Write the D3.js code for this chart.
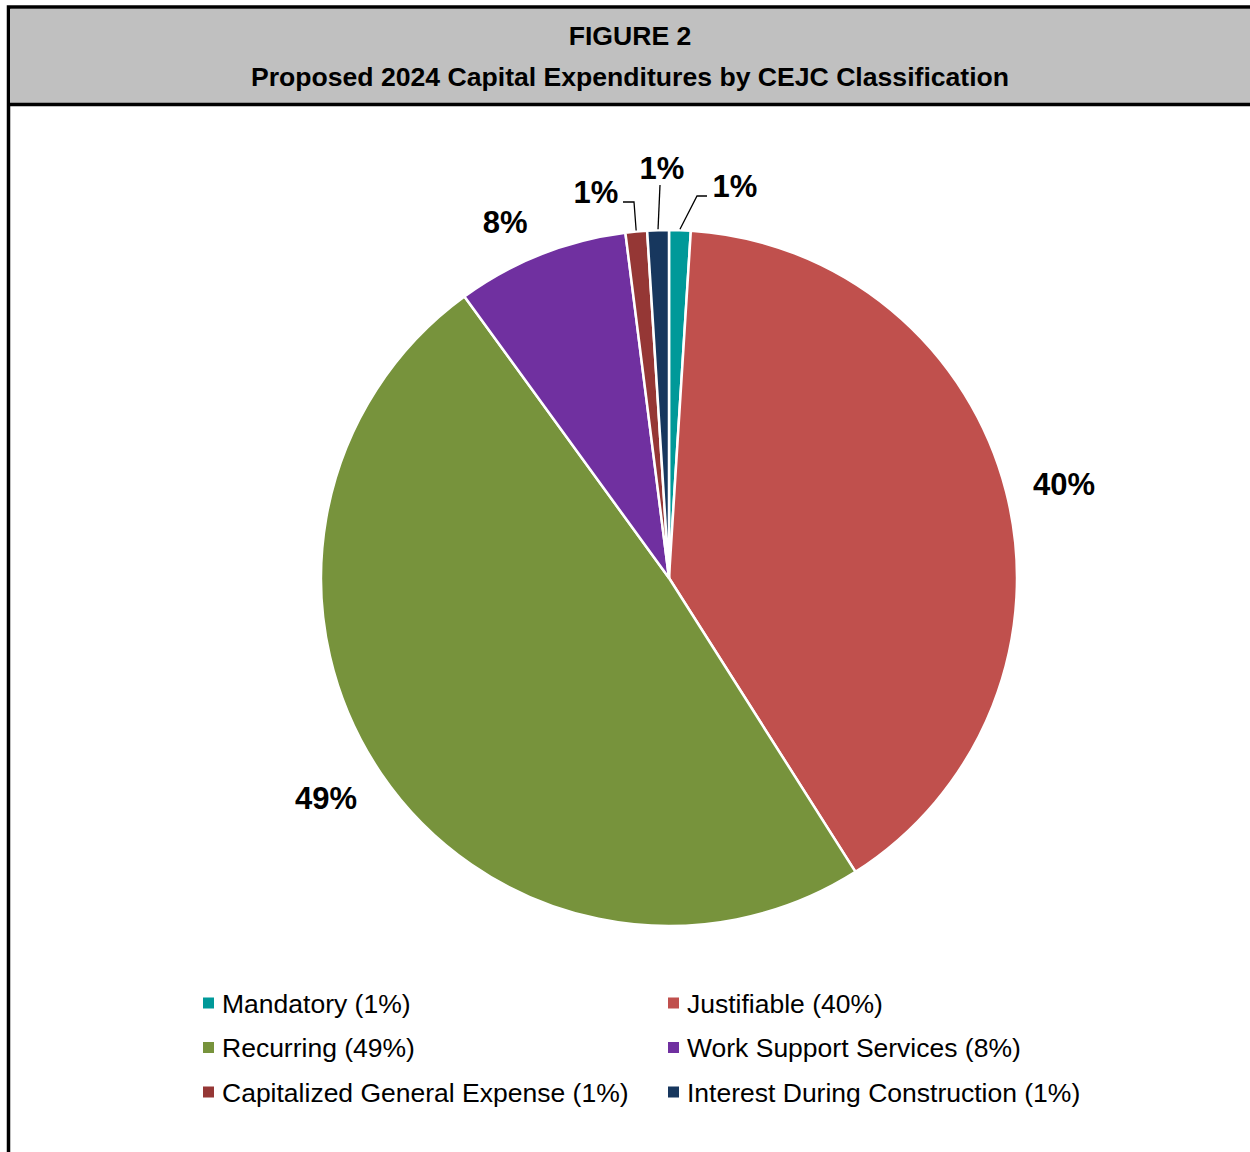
<!DOCTYPE html>
<html>
<head>
<meta charset="utf-8">
<script src="https://cdn.jsdelivr.net/npm/d3@7"></script>
<style>
  body { margin: 0; background: #fff; }
  svg { display: block; font-family: "Liberation Sans", Arial, sans-serif; }
</style>
</head>
<body>
<svg width="1250" height="1152"></svg>
<script>
// categorias en orden de la torta (desde las 12 en sentido horario)
var categories = ["Mandatory", "Justifiable", "Recurring", "Work Support Services", "Capitalized General Expense", "Interest During Construction"];
var values = [1.0, 40.0, 49.0, 8.0, 1.0, 1.0];
var labels = ["1%", "40%", "49%", "8%", "1%", "1%"];
var legendLabels = ["Mandatory (1%)", "Justifiable (40%)", "Recurring (49%)", "Work Support Services (8%)", "Capitalized General Expense (1%)", "Interest During Construction (1%)"];
var colors = ["#009999", "#C0504D", "#77933C", "#7030A0", "#953735", "#17375E"];
var titleLines = ["FIGURE 2", "Proposed 2024 Capital Expenditures by CEJC Classification"];

var svg = d3.select("svg");

// marco y encabezado
svg.append("rect").attr("x", 8.5).attr("y", 7).attr("width", 1260).attr("height", 1200)
   .attr("fill", "#fff").attr("stroke", "#000").attr("stroke-width", 3.5);
svg.append("rect").attr("x", 10).attr("y", 9).attr("width", 1260).attr("height", 94).attr("fill", "#C0C0C0");
svg.append("line").attr("x1", 8).attr("x2", 1250).attr("y1", 104.5).attr("y2", 104.5)
   .attr("stroke", "#000").attr("stroke-width", 3.5);

svg.selectAll("text.title")
   .data(titleLines)
   .enter().append("text")
     .attr("class", "title")
     .attr("x", 630)
     .attr("y", function(d, i) { return 45 + i * 41; })
     .attr("text-anchor", "middle")
     .attr("font-weight", "bold")
     .attr("font-size", 26.6)
     .text(function(d) { return d; });

// torta
var cx = 669, cy = 578, radius = 348;
var data = categories.map(function(c, i) { return { name: c, value: values[i], label: labels[i], color: colors[i] }; });

var pie = d3.pie().sort(null).value(function(d) { return d.value; });
var arc = d3.arc().innerRadius(0).outerRadius(radius);
var arcs = pie(data);

var g = svg.append("g").attr("transform", "translate(" + cx + "," + cy + ")");

g.selectAll("path.slice")
 .data(arcs)
 .enter().append("path")
   .attr("class", "slice")
   .attr("d", arc)
   .attr("fill", function(d) { return d.data.color; })
   .attr("stroke", "#fff")
   .attr("stroke-width", 2.5);

function polar(a, r) { return [Math.sin(a) * r, -Math.cos(a) * r]; }
var deg = Math.PI / 180;

// etiquetas grandes: sobre un arco exterior (radio, giro en grados); chicas: con linea guia
var labelR = { "Justifiable": [406, 1.0], "Recurring": [407.5, 1.5], "Work Support Services": [392, -3.1] };
var leader = {
  "Mandatory": { r0: 349, knee: [28, -382], end: [38, -382], text: [66, -392] },
  "Interest During Construction": { r0: 349, knee: [-9, -393], end: [-9, -393], text: [-7, -410] },
  "Capitalized General Expense": { r0: 349, knee: [-35, -376], end: [-46, -376], text: [-73, -386] }
};

arcs.forEach(function(d) {
  var mid = (d.startAngle + d.endAngle) / 2;
  var pos;
  if (leader[d.data.name]) {
    var L = leader[d.data.name];
    var p0 = polar(mid, L.r0);
    g.append("polyline")
     .attr("points", [p0, L.knee, L.end].map(function(p) { return p.join(","); }).join(" "))
     .attr("fill", "none").attr("stroke", "#000").attr("stroke-width", 1.3);
    pos = L.text;
  } else {
    var lr = labelR[d.data.name];
    pos = polar(mid + lr[1] * deg, lr[0]);
  }
  g.append("text")
   .attr("x", pos[0]).attr("y", pos[1])
   .attr("dy", "0.35em")
   .attr("text-anchor", "middle")
   .attr("font-weight", "bold")
   .attr("font-size", 31)
   .text(d.data.label);
});

// leyenda
var colX = [203, 668];
var rowY = d3.scalePoint().domain([0, 1, 2]).range([1003, 1092]);

var leg = svg.selectAll("g.legend")
  .data(data)
  .enter().append("g")
    .attr("class", "legend")
    .attr("transform", function(d, i) { return "translate(" + colX[i % 2] + "," + rowY(Math.floor(i / 2)) + ")"; });

leg.append("rect")
   .attr("x", 0).attr("y", -5.5).attr("width", 11).attr("height", 11)
   .attr("fill", function(d) { return d.color; });

leg.append("text")
   .attr("x", 19).attr("y", 0).attr("dy", "0.36em")
   .attr("font-size", 26.5)
   .text(function(d, i) { return legendLabels[i]; });
</script>
</body>
</html>
